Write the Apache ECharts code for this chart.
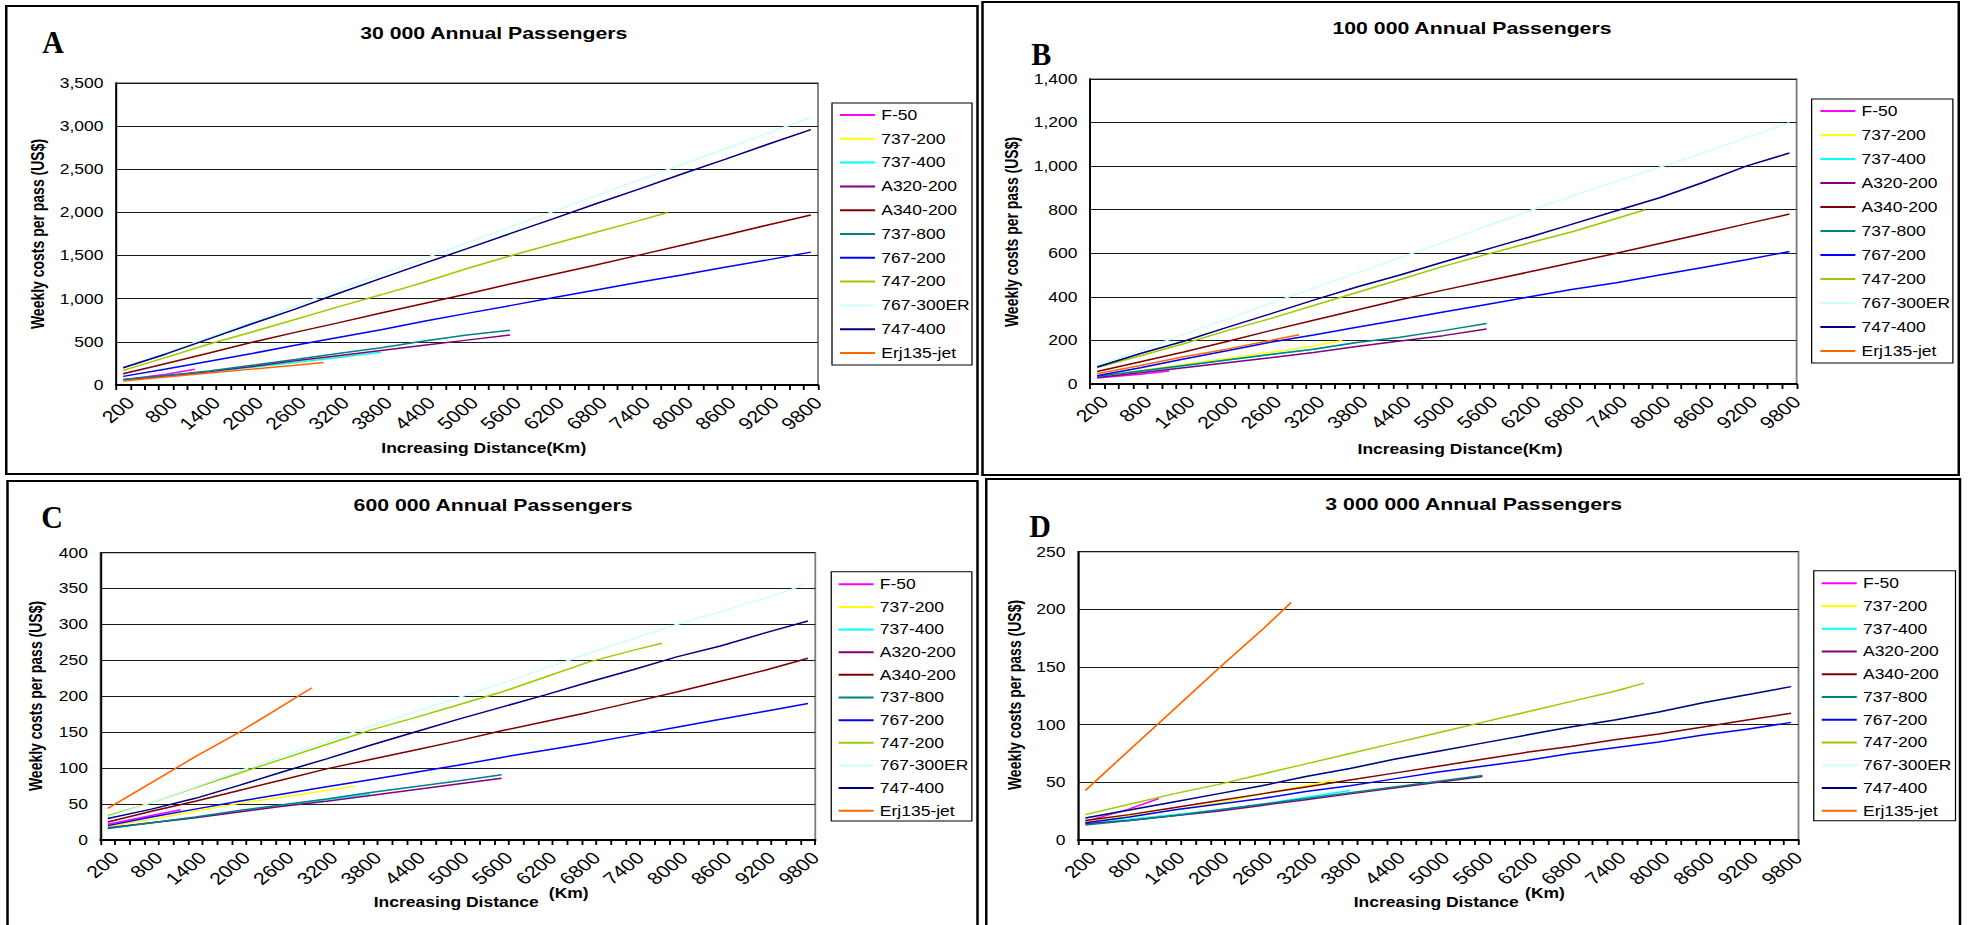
<!DOCTYPE html>
<html>
<head>
<meta charset="utf-8">
<title>Weekly costs per passenger</title>
<script src="https://cdn.jsdelivr.net/npm/echarts@6.0.0/dist/echarts.min.js"></script>
<style>
  html, body { margin: 0; padding: 0; background: #fff; overflow: hidden; }
  /* the source figure was stretched sideways by about 1.25, so draw narrow and stretch */
  #main { width: 1576px; height: 925px; transform: scaleX(1.25); transform-origin: 0 0; }
</style>
</head>
<body>
<div id="main"></div>
<script type="text/javascript">
var myChart = echarts.init(document.getElementById('main'), null, { renderer: 'svg' });

// aircraft, in legend order
var names = ['F-50', '737-200', '737-400', 'A320-200', 'A340-200', '737-800',
             '767-200', '747-200', '767-300ER', '747-400', 'Erj135-jet'];
var colors = ['#FF00FF', '#FFFF00', '#00FFFF', '#800080', '#800000', '#008080',
              '#0000FF', '#99CC00', '#CCFFFF', '#000080', '#FF6600'];
// last distance flown by each aircraft (km)
var endKm = [1200, 3600, 3800, 5600, 9800, 5600, 9800, 7800, 9800, 9800, 3000];

// x categories (km)
var distanceKm = [200, 400, 600, 800, 1000, 1200, 1400, 1600, 1800, 2000, 2200, 2400, 2600,
                  2800, 3000, 3200, 3400, 3600, 3800, 4000, 4200, 4400, 4600, 4800, 5000,
                  5200, 5400, 5600, 5800, 6000, 6200, 6400, 6600, 6800, 7000, 7200, 7400,
                  7600, 7800, 8000, 8200, 8400, 8600, 8800, 9000, 9200, 9400, 9600, 9800];
// distances where values were read; each series then ends at its endKm
var sampleKm = [200, 800, 1400, 2000, 2600, 3200, 3800, 4400, 5000, 5600, 6200, 6800, 7400, 8000, 8600, 9200, 9800];

// A: 30 000 annual passengers
var costA = [
  [62, 125, 182],
  [58, 100, 150, 205, 260, 320, 360],
  [58, 100, 150, 205, 260, 320, 380],
  [60, 105, 155, 215, 280, 340, 400, 460, 520, 580],
  [130, 250, 370, 495, 610, 720, 835, 945, 1055, 1170, 1280, 1390, 1505, 1620, 1735, 1855, 1970],
  [65, 110, 162, 230, 296, 365, 431, 510, 580, 635],
  [100, 185, 275, 365, 460, 550, 640, 740, 830, 920, 1010, 1100, 1190, 1275, 1365, 1450, 1540],
  [170, 320, 475, 615, 760, 905, 1045, 1190, 1350, 1495, 1635, 1770, 1905, 2000],
  [205, 375, 550, 730, 915, 1105, 1285, 1465, 1650, 1830, 2010, 2195, 2375, 2555, 2735, 2920, 3100],
  [200, 360, 535, 710, 880, 1060, 1235, 1410, 1580, 1755, 1925, 2100, 2270, 2445, 2615, 2790, 2960],
  [47, 92, 138, 184, 228, 262]
];
// B: 100 000 annual passengers
var costB = [
  [28, 45, 60],
  [35, 62, 90, 117, 145, 175, 200],
  [35, 58, 82, 110, 135, 160, 190],
  [30, 52, 75, 98, 120, 145, 172, 197, 222, 252],
  [57, 102, 147, 195, 245, 293, 340, 387, 431, 473, 515, 558, 600, 645, 690, 735, 780],
  [35, 60, 85, 110, 135, 160, 190, 215, 245, 278],
  [38, 75, 115, 153, 192, 225, 260, 295, 330, 365, 400, 435, 465, 500, 535, 570, 608],
  [75, 130, 185, 245, 300, 360, 420, 480, 540, 595, 648, 700, 760, 800],
  [85, 155, 228, 298, 370, 440, 510, 580, 650, 725, 795, 865, 930, 995, 1060, 1130, 1200],
  [78, 140, 196, 260, 322, 385, 445, 500, 560, 618, 675, 735, 795, 855, 925, 1000, 1060],
  [47, 85, 125, 160, 200, 226]
];
// C: 600 000 annual passengers
var costC = [
  [22, 34, 42],
  [19, 29, 40, 51, 60, 69, 75],
  [16, 24, 31, 40, 48, 56, 64],
  [17, 24, 31, 39, 47, 54, 62, 70, 78, 86],
  [25, 40, 54, 69, 84, 99, 112, 125, 138, 152, 165, 178, 192, 206, 221, 236, 253],
  [16, 24, 32, 41, 49, 57, 66, 74, 82, 91],
  [20, 32, 43, 54, 64, 74, 84, 94, 104, 115, 125, 135, 146, 157, 168, 179, 190],
  [34, 52, 73, 93, 113, 133, 153, 170, 188, 206, 227, 248, 264, 274],
  [32, 52, 74, 96, 117, 137, 158, 178, 198, 218, 239, 260, 280, 300, 318, 336, 357],
  [30, 43, 58, 76, 95, 113, 132, 150, 168, 185, 202, 220, 237, 255, 270, 288, 305],
  [44, 80, 116, 150, 187, 212]
];
// D: 3 000 000 annual passengers
var costD = [
  [16, 27, 36],
  [16, 21, 26, 32, 40, 47, 52],
  [14, 18, 22, 26, 31, 37, 43],
  [14, 17, 21, 25, 30, 35, 40, 45, 50, 55],
  [17, 22, 28, 34, 40, 46, 52, 58, 64, 70, 76, 81, 87, 92, 98, 104, 110],
  [13, 17, 21, 26, 31, 36, 41, 46, 51, 56],
  [15, 20, 26, 31, 36, 42, 47, 53, 59, 64, 69, 75, 80, 85, 91, 96, 102],
  [22, 31, 40, 48, 57, 66, 75, 84, 93, 102, 111, 120, 129, 136],
  [19, 26, 33, 40, 47, 55, 62, 70, 77, 84, 91, 98, 104, 111, 119, 126, 133],
  [19, 26, 33, 40, 47, 55, 62, 70, 77, 84, 91, 98, 104, 111, 119, 126, 133],
  [43, 78, 113, 148, 182, 206]
];

var FONT = '"Liberation Sans", Arial, sans-serif';

// layout of the four panels (unstretched px)
var panels = [
  { letter: 'A', title: '30 000 Annual Passengers', data: costA, max: 3500, step: 500, comma: true,
    box: [5, 6, 777, 468], grid: [92.8, 83, 561.6, 302],
    legendBox: [665.6, 103, 112, 262], legend: [672, 107, 7.8],
    titleXY: [395, 33], letterXY: [42.4, 42], yTitleXY: [30, 234],
    xTitle: [[387, 448, 'Increasing Distance(Km)']] },
  { letter: 'B', title: '100 000 Annual Passengers', data: costB, max: 1400, step: 200, comma: true,
    box: [786, 2, 781, 473], grid: [872, 79, 565.3, 305],
    legendBox: [1449.3, 99, 113, 264], legend: [1456.3, 103, 8],
    titleXY: [1177.6, 28], letterXY: [833, 54], yTitleXY: [809.6, 232],
    xTitle: [[1168, 449, 'Increasing Distance(Km)']] },
  { letter: 'C', title: '600 000 Annual Passengers', data: costC, max: 400, step: 50, comma: false,
    box: [6, 481, 776, 460], grid: [80.4, 552.7, 571.8, 287.3],
    legendBox: [665, 571.7, 112.5, 249.3], legend: [670.9, 576.3, 6.64],
    titleXY: [394.5, 505], letterXY: [41.6, 517], yTitleXY: [29, 696],
    xTitle: [[365, 902, 'Increasing Distance'], [455, 893, '(Km)']] },
  { letter: 'D', title: '3 000 000 Annual Passengers', data: costD, max: 250, step: 50, comma: false,
    box: [789, 479, 779, 460], grid: [862.4, 551.7, 576.4, 288.3],
    legendBox: [1451, 570.7, 113.4, 250], legend: [1457.4, 575.3, 6.74],
    titleXY: [1179, 504], letterXY: [832, 526], yTitleXY: [812, 695],
    xTitle: [[1149, 902, 'Increasing Distance'], [1236, 893, '(Km)']] }
];

function pointsFor(values, s) {
  var km = sampleKm.filter(function (d) { return d < endKm[s]; }).concat([endKm[s]]);
  return values.map(function (v, j) { return [distanceKm.indexOf(km[j]), v]; });
}

function label(x, y, text, font, extra) {
  var el = {
    type: 'text', x: x, y: y, z: 10,
    style: { text: text, font: font, fill: '#000',
             align: 'center', verticalAlign: 'middle',
             textAlign: 'center', textVerticalAlign: 'middle' }
  };
  for (var k in extra) el[k] = extra[k];
  return el;
}

var grids = [], xAxes = [], yAxes = [], series = [], legends = [], graphics = [];

panels.forEach(function (p, i) {
  grids.push({ left: p.grid[0], top: p.grid[1], width: p.grid[2], height: p.grid[3],
               show: true, borderColor: '#808080', borderWidth: 1.5, containLabel: false });
  xAxes.push({
    type: 'category', gridIndex: i, data: distanceKm, boundaryGap: true,
    axisLine: { lineStyle: { color: '#000', width: 2 } },
    axisTick: { show: true, interval: 0, length: 5, lineStyle: { color: '#000', width: 1.5 } },
    axisLabel: { interval: 2, rotate: 45, fontSize: 17, color: '#000', margin: 9,
                 align: 'right', verticalAlign: 'top', fontFamily: FONT },
    splitLine: { show: false }
  });
  yAxes.push({
    type: 'value', gridIndex: i, min: 0, max: p.max, interval: p.step,
    axisLine: { show: true, lineStyle: { color: '#000', width: 1.5 } },
    axisTick: { show: false },
    axisLabel: { fontSize: 14, color: '#000', margin: 10, fontFamily: FONT,
                 formatter: p.comma ? function (v) { return v.toLocaleString('en-US'); } : '{value}' },
    splitLine: { lineStyle: { color: '#1a1a1a', width: 1 } }
  });
  p.data.forEach(function (vals, s) {
    series.push({
      type: 'line', name: names[s], xAxisIndex: i, yAxisIndex: i,
      data: pointsFor(vals, s), symbol: 'none', showSymbol: false,
      color: colors[s], lineStyle: { width: 1.5, color: colors[s] },
      emphasis: { disabled: true }, silent: true
    });
  });
  legends.push({
    data: names, orient: 'vertical', left: p.legend[0], top: p.legend[1], padding: 0,
    itemGap: p.legend[2], itemWidth: 28, itemHeight: 2, icon: 'rect', selectedMode: false,
    textStyle: { fontSize: 14, lineHeight: 16, color: '#000', fontFamily: FONT }
  });

  graphics.push({ type: 'rect', z: 1, shape: { x: p.box[0], y: p.box[1], width: p.box[2], height: p.box[3] },
                  style: { fill: 'none', stroke: '#000', lineWidth: 2 } });
  graphics.push({ type: 'rect', z: 1, shape: { x: p.legendBox[0], y: p.legendBox[1], width: p.legendBox[2], height: p.legendBox[3] },
                  style: { fill: 'none', stroke: '#000', lineWidth: 1 } });
  graphics.push(label(p.titleXY[0], p.titleXY[1], p.title, 'bold 17px ' + FONT));
  graphics.push(label(p.letterXY[0], p.letterXY[1], p.letter, 'bold 32px "Liberation Serif", "Times New Roman", serif', { scaleX: 0.75 }));
  graphics.push(label(p.yTitleXY[0], p.yTitleXY[1], 'Weekly costs per pass (US$)', 'bold 14px ' + FONT, { rotation: Math.PI / 2 }));
  p.xTitle.forEach(function (t) {
    graphics.push(label(t[0], t[1], t[2], 'bold 14px ' + FONT));
  });
});

var option = {
  animation: false,
  backgroundColor: '#fff',
  textStyle: { fontFamily: FONT },
  grid: grids,
  xAxis: xAxes,
  yAxis: yAxes,
  legend: legends,
  series: series,
  graphic: { elements: graphics }
};

myChart.setOption(option);
</script>
</body>
</html>
